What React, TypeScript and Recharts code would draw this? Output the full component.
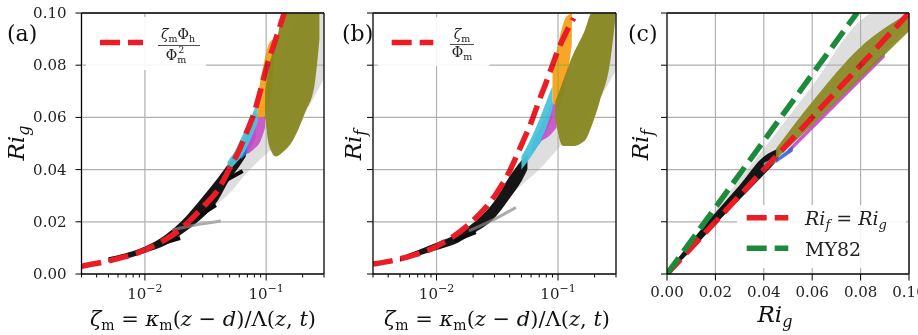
import React from 'react';
import { ComposedChart, Area, Line, XAxis, YAxis, Legend } from 'recharts';

type Row = [number, number, number]; // x, lower edge, upper edge of a point cloud

// axis ticks
const zetaTicks = [0.003, 0.004, 0.005, 0.006, 0.007, 0.008, 0.009, 0.01, 0.02, 0.03, 0.04, 0.05, 0.06, 0.07, 0.08, 0.09, 0.1, 0.2, 0.3];
const zetaMajor = [0.01, 0.1];
const riTicks = [0, 0.02, 0.04, 0.06, 0.08, 0.1];

// (a) Ri_g against zeta_m, dashed curve zeta*Phi_h/Phi_m^2
const fitGZeta = [0.003, 0.005, 0.01, 0.02, 0.03, 0.04, 0.05, 0.06, 0.07, 0.08, 0.09, 0.1, 0.12, 0.141];
const fitGRi = [0.003, 0.005, 0.0092, 0.0175, 0.0256, 0.0322, 0.0405, 0.0475, 0.055, 0.062, 0.0705, 0.0785, 0.09, 0.1];
const grayA: Row[] = [[0.025, 0.0195, 0.024], [0.035, 0.025, 0.03], [0.05, 0.031, 0.04], [0.07, 0.039, 0.05], [0.1, 0.046, 0.065], [0.15, 0.053, 0.09], [0.2, 0.06, 0.1], [0.25, 0.068, 0.1], [0.3, 0.075, 0.1]];
const blackA: Row[] = [[0.005, 0.0045, 0.0064], [0.008, 0.0066, 0.0088], [0.01, 0.0081, 0.0105], [0.015, 0.0112, 0.0152], [0.02, 0.0152, 0.0202], [0.03, 0.0216, 0.0296], [0.04, 0.0282, 0.0368], [0.05, 0.0362, 0.0428], [0.06, 0.0412, 0.0472], [0.068, 0.045, 0.0485]];
const cyanA: Row[] = [[0.048, 0.039, 0.043], [0.055, 0.042, 0.047], [0.065, 0.046, 0.054], [0.075, 0.052, 0.06], [0.085, 0.058, 0.066]];
const blueA: Row[] = [[0.062, 0.044, 0.049], [0.072, 0.047, 0.056], [0.082, 0.052, 0.062]];
const magentaA: Row[] = [[0.07, 0.046, 0.05], [0.08, 0.048, 0.058], [0.09, 0.051, 0.064], [0.098, 0.056, 0.066]];
const orangeA: Row[] = [[0.085, 0.06, 0.068], [0.095, 0.06, 0.08], [0.105, 0.065, 0.088], [0.115, 0.075, 0.09]];
const oliveA: Row[] = [[0.098, 0.06, 0.07], [0.106, 0.049, 0.08], [0.12, 0.045, 0.088], [0.14, 0.047, 0.1], [0.165, 0.051, 0.1], [0.21, 0.062, 0.1], [0.25, 0.072, 0.1], [0.275, 0.09, 0.1]];
const thinA = { xs: [0.0168, 0.0262, 0.0423], ys: [0.0169, 0.0188, 0.0203] };
const streaksA = [
  { xs: [0.014, 0.0195], ys: [0.0118, 0.0138] },
  { xs: [0.026, 0.0385], ys: [0.0213, 0.0264] },
  { xs: [0.047, 0.064], ys: [0.036, 0.0395] },
];

// (b) Ri_f against zeta_m, dashed curve zeta/Phi_m
const fitFZeta = [0.003, 0.005, 0.01, 0.02, 0.03, 0.04, 0.05, 0.06, 0.07, 0.08, 0.09, 0.1, 0.115, 0.1346];
const fitFRi = [0.0038, 0.0058, 0.0106, 0.0205, 0.0298, 0.0395, 0.0495, 0.058, 0.0665, 0.0735, 0.08, 0.0858, 0.092, 0.098];
const grayB: Row[] = [[0.04, 0.03, 0.036], [0.05, 0.034, 0.042], [0.07, 0.04, 0.055], [0.1, 0.048, 0.07], [0.15, 0.056, 0.088], [0.2, 0.064, 0.1], [0.3, 0.078, 0.1]];
const blackB: Row[] = [[0.005, 0.0048, 0.0065], [0.01, 0.0092, 0.012], [0.015, 0.012, 0.0155], [0.02, 0.0155, 0.0195], [0.03, 0.0215, 0.028], [0.04, 0.029, 0.0375], [0.05, 0.0355, 0.0435], [0.056, 0.04, 0.046]];
const cyanB: Row[] = [[0.05, 0.04, 0.045], [0.06, 0.045, 0.052], [0.07, 0.05, 0.059], [0.08, 0.056, 0.066], [0.09, 0.063, 0.072]];
const blueB: Row[] = [[0.06, 0.046, 0.049], [0.075, 0.052, 0.058], [0.09, 0.06, 0.066]];
const magentaB: Row[] = [[0.072, 0.051, 0.056], [0.085, 0.053, 0.062], [0.097, 0.056, 0.068]];
const orangeB: Row[] = [[0.09, 0.066, 0.078], [0.1, 0.064, 0.088], [0.115, 0.072, 0.098], [0.13, 0.088, 0.1]];
const oliveB: Row[] = [[0.095, 0.059, 0.066], [0.11, 0.049, 0.074], [0.13, 0.049, 0.083], [0.165, 0.051, 0.093], [0.19, 0.057, 0.1], [0.22, 0.066, 0.1], [0.27, 0.082, 0.1], [0.295, 0.097, 0.1]];
const thinB = { xs: [0.0185, 0.03, 0.045], ys: [0.0165, 0.021, 0.0255] };
const streaksB = [{ xs: [0.014, 0.021], ys: [0.0128, 0.016] }];

// (c) Ri_f against Ri_g
const oneToOneX = [0, 0.1];
const oneToOneY = [0, 0.1];
const my82X = [0, 0.02, 0.04, 0.06, 0.0785];
const my82Y = [0, 0.0255, 0.051, 0.0765, 0.1];
const grayC: Row[] = [[0.01, 0.01, 0.012], [0.02, 0.0195, 0.0245], [0.04, 0.039, 0.048], [0.06, 0.057, 0.072], [0.08, 0.075, 0.097], [0.085, 0.08, 0.1], [0.1, 0.095, 0.1]];
const blackC: Row[] = [[0.002, 0.0015, 0.003], [0.01, 0.009, 0.0125], [0.02, 0.019, 0.0235], [0.03, 0.0285, 0.034], [0.04, 0.038, 0.045], [0.046, 0.044, 0.048]];
const oliveC: Row[] = [[0.045, 0.044, 0.048], [0.06, 0.057, 0.066], [0.08, 0.075, 0.087], [0.1, 0.093, 0.1]];
const magentaC: Row[] = [[0.05, 0.046, 0.0478], [0.09, 0.083, 0.0852]];
const cyanC: Row[] = [[0.04, 0.0395, 0.0425], [0.045, 0.043, 0.045]];
const blueC: Row[] = [[0.045, 0.0425, 0.044], [0.052, 0.047, 0.049]];

const RED = '#ec1c24';
const GREEN = '#1b8a3a';
const OLIVE = '#86861f';
const ORANGE = '#f7a21b';
const MAGENTA = '#c94fc9';
const BLUE = '#3a64d8';
const CYAN = '#48c4dc';
const BLACK = '#0a0a0a';
const GRAY = '#a0a0a0';
const GRID = '#b0b0b0';
const FONT = 'DejaVu Serif';
const H = 335;
const PLOT_TOP = 13;
const PLOT_BOTTOM = 274;

const toBand = (rows: Row[]) => rows.map(([x, lo, hi]) => ({ x, r: [lo, hi] }));
const toLine = (xs: number[], ys: number[]) => xs.map((x, i) => ({ x, y: ys[i] }));

const XTick = ({ x, y, payload, log }: any) => {
  const v = payload.value;
  const major = !log || zetaMajor.includes(v);
  return (
    <g>
      <line x1={x} x2={x} y1={y} y2={y + (major ? 6.5 : 3.5)} stroke="#000" strokeWidth={1} />
      {log && major && (
        <text x={x} y={y + 25} textAnchor="middle" fontSize={15} fill="#222" fontFamily={FONT}>
          10<tspan dy={-7} fontSize={11}>{'\u2212' + Math.round(-Math.log10(v))}</tspan>
        </text>
      )}
      {!log && (
        <text x={x} y={y + 23} textAnchor="middle" fontSize={15} fill="#222" fontFamily={FONT}>
          {v.toFixed(2)}
        </text>
      )}
    </g>
  );
};

const YTick = ({ x, y, payload, labels }: any) => (
  <g>
    <line x1={x - 6} x2={x} y1={y} y2={y} stroke="#000" strokeWidth={1} />
    {labels && (
      <text x={x - 15} y={y + 5} textAnchor="end" fontSize={15} fill="#222" fontFamily={FONT}>
        {payload.value.toFixed(2)}
      </text>
    )}
  </g>
);

interface Cloud { rows: Row[]; color: string; opacity: number }
interface Curve { xs: number[]; ys: number[]; color: string; width: number; dash?: string; opacity?: number }

interface PanelProps {
  left: number;
  width: number;
  plotL: number;
  plotR: number;
  log: boolean;
  xDomain: [number, number];
  xTicks: number[];
  clouds: Cloud[];
  curves: Curve[];
  yLabels: boolean;
  legend: React.ReactNode;
  legendBox: { left: number; top: number; width: number; height: number };
}

const Panel: React.FC<PanelProps> = ({ left, width, plotL, plotR, log, xDomain, xTicks, clouds, curves, yLabels, legend, legendBox }) => {
  const margin = { top: PLOT_TOP, bottom: H - PLOT_BOTTOM - 30, left: plotL - left - 60, right: left + width - plotR };
  return (
    <div style={{ position: 'absolute', left, top: 0 }}>
      <ComposedChart width={width} height={H} margin={margin}>
        <XAxis
          dataKey="x"
          type="number"
          scale={log ? 'log' : 'linear'}
          domain={xDomain}
          allowDataOverflow
          ticks={xTicks}
          interval={0}
          height={30}
          tickSize={0}
          tickMargin={0}
          tickLine={false}
          axisLine={{ stroke: '#000', strokeWidth: 1.3 }}
          tick={(p: any) => <XTick {...p} log={log} />}
        />
        <YAxis
          type="number"
          domain={[0, 0.1]}
          allowDataOverflow
          ticks={riTicks}
          interval={0}
          width={60}
          tickSize={0}
          tickMargin={0}
          tickLine={false}
          axisLine={{ stroke: '#000', strokeWidth: 1.3 }}
          tick={(p: any) => <YTick {...p} labels={yLabels} />}
        />
        {clouds.map((c, i) => (
          <Area
            key={'cloud' + i}
            data={toBand(c.rows)}
            dataKey="r"
            type="monotone"
            fill={c.color}
            fillOpacity={c.opacity}
            stroke="none"
            dot={false}
            activeDot={false}
            legendType="none"
            isAnimationActive={false}
          />
        ))}
        {curves.map((c, i) => (
          <Line
            key={'curve' + i}
            data={toLine(c.xs, c.ys)}
            dataKey="y"
            type="monotone"
            stroke={c.color}
            strokeWidth={c.width}
            strokeDasharray={c.dash}
            strokeOpacity={c.opacity ?? 1}
            dot={false}
            activeDot={false}
            legendType="none"
            isAnimationActive={false}
          />
        ))}
        <Legend
          layout="vertical"
          align="center"
          verticalAlign="middle"
          wrapperStyle={{ ...legendBox, zIndex: 10 }}
          content={() => legend}
        />
      </ComposedChart>
    </div>
  );
};

// grid lines and top/right spines, blended with "darken" so the clouds stay on top visually
const Frame = ({ plotL, plotR, log, xDomain, xGrid }: { plotL: number; plotR: number; log: boolean; xDomain: [number, number]; xGrid: number[] }) => {
  const f = (v: number) => (log ? Math.log10(v) : v);
  const sx = (v: number) => plotL + ((f(v) - f(xDomain[0])) / (f(xDomain[1]) - f(xDomain[0]))) * (plotR - plotL);
  const sy = (v: number) => PLOT_BOTTOM - (v / 0.1) * (PLOT_BOTTOM - PLOT_TOP);
  return (
    <g>
      {xGrid.map((v) => (
        <line key={'x' + v} x1={sx(v)} x2={sx(v)} y1={PLOT_TOP} y2={PLOT_BOTTOM} stroke={GRID} strokeWidth={1.2} />
      ))}
      {riTicks.map((v) => (
        <line key={'y' + v} x1={plotL} x2={plotR} y1={sy(v)} y2={sy(v)} stroke={GRID} strokeWidth={1.2} />
      ))}
      <line x1={plotL} x2={plotR} y1={PLOT_TOP} y2={PLOT_TOP} stroke="#000" strokeWidth={1.3} />
      <line x1={plotR} x2={plotR} y1={PLOT_TOP} y2={PLOT_BOTTOM} stroke="#000" strokeWidth={1.3} />
    </g>
  );
};

const DASH = '20 8';

const LegendA = () => (
  <svg width={120} height={53} style={{ display: 'block' }} fontFamily={FONT}>
    <rect x={0} y={0} width={120} height={53} rx={3} fill="#fff" fillOpacity={0.9} />
    <line x1={14} x2={57} y1={25.5} y2={25.5} stroke={RED} strokeWidth={5.5} strokeDasharray={DASH} />
    <text x={92} y={22} textAnchor="middle" fontSize={14} fill="#222">
      <tspan fontStyle="italic">ζ</tspan>
      <tspan fontSize={9.5} dy={3}>m</tspan>
      <tspan dy={-3}>Φ</tspan>
      <tspan fontSize={9.5} dy={3}>h</tspan>
    </text>
    <line x1={72} x2={114} y1={28.5} y2={28.5} stroke="#222" strokeWidth={0.8} />
    <text x={90} y={43} textAnchor="middle" fontSize={14} fill="#222">
      Φ<tspan fontSize={9.5} dy={3}>m</tspan>
      <tspan fontSize={9.5} dx={-8} dy={-10}>2</tspan>
    </text>
  </svg>
);

const LegendB = () => (
  <svg width={113} height={49} style={{ display: 'block' }} fontFamily={FONT}>
    <rect x={0} y={0} width={113} height={49} rx={3} fill="#fff" fillOpacity={0.9} />
    <line x1={14.7} x2={56.3} y1={25.5} y2={25.5} stroke={RED} strokeWidth={5.5} strokeDasharray={DASH} />
    <text x={85} y={22} textAnchor="middle" fontSize={14} fill="#222">
      <tspan fontStyle="italic">ζ</tspan>
      <tspan fontSize={9.5} dy={3}>m</tspan>
    </text>
    <line x1={73} x2={97} y1={27.5} y2={27.5} stroke="#222" strokeWidth={0.8} />
    <text x={85} y={40} textAnchor="middle" fontSize={14} fill="#222">
      Φ<tspan fontSize={9.5} dy={3}>m</tspan>
    </text>
  </svg>
);

const LegendC = () => (
  <svg width={169} height={63} style={{ display: 'block' }} fontFamily={FONT}>
    <rect x={0} y={0} width={169} height={63} rx={3} fill="#fff" fillOpacity={0.9} />
    <line x1={9.7} x2={51.3} y1={12.7} y2={12.7} stroke={RED} strokeWidth={5.5} strokeDasharray={DASH} />
    <text x={68} y={20} fontSize={19} fill="#222">
      <tspan fontStyle="italic">Ri</tspan>
      <tspan fontStyle="italic" fontSize={13} dy={4}>f</tspan>
      <tspan dy={-4}> = </tspan>
      <tspan fontStyle="italic">Ri</tspan>
      <tspan fontStyle="italic" fontSize={13} dy={4}>g</tspan>
    </text>
    <line x1={9.7} x2={51.3} y1={43.3} y2={43.3} stroke={GREEN} strokeWidth={5.5} strokeDasharray={DASH} />
    <text x={68} y={51} fontSize={19} fill="#222">MY82</text>
  </svg>
);

const ZetaLabel = ({ x }: { x: number }) => (
  <text x={x} y={326} textAnchor="middle" fontSize={21} fill="#111" fontFamily={FONT}>
    <tspan fontStyle="italic">ζ</tspan>
    <tspan fontSize={14} dy={4}>m</tspan>
    <tspan dy={-4}> = </tspan>
    <tspan fontStyle="italic">κ</tspan>
    <tspan fontSize={14} dy={4}>m</tspan>
    <tspan dy={-4}>(</tspan>
    <tspan fontStyle="italic">z</tspan>
    <tspan> − </tspan>
    <tspan fontStyle="italic">d</tspan>
    <tspan>)/Λ(</tspan>
    <tspan fontStyle="italic">z</tspan>
    <tspan>, </tspan>
    <tspan fontStyle="italic">t</tspan>
    <tspan>)</tspan>
  </text>
);

const RiLabel = ({ x, y, sub, rotate }: { x: number; y: number; sub: string; rotate?: boolean }) => (
  <text
    transform={`translate(${x},${y})${rotate ? ' rotate(-90)' : ''}`}
    textAnchor="middle"
    fontSize={23}
    fontStyle="italic"
    fill="#111"
    fontFamily={FONT}
  >
    Ri<tspan fontSize={16} dy={5}>{sub}</tspan>
  </text>
);

export default function App() {
  return (
    <div style={{ position: 'absolute', left: 0, top: 0, width: 918, height: H, background: '#fff', overflow: 'hidden' }}>
      <Panel
        left={0}
        width={330}
        plotL={81.5}
        plotR={324}
        log
        xDomain={[0.003, 0.3]}
        xTicks={zetaTicks}
        yLabels
        clouds={[
          { rows: grayA, color: GRAY, opacity: 0.35 },
          { rows: blackA, color: BLACK, opacity: 0.95 },
          { rows: blueA, color: BLUE, opacity: 0.9 },
          { rows: magentaA, color: MAGENTA, opacity: 0.9 },
          { rows: cyanA, color: CYAN, opacity: 0.95 },
          { rows: orangeA, color: ORANGE, opacity: 0.95 },
          { rows: oliveA, color: OLIVE, opacity: 0.95 },
        ]}
        curves={[
          { ...thinA, color: '#888', width: 3, opacity: 0.7 },
          ...streaksA.map((s) => ({ ...s, color: BLACK, width: 4 })),
          { xs: fitGZeta, ys: fitGRi, color: RED, width: 5.5, dash: DASH },
        ]}
        legend={<LegendA />}
        legendBox={{ left: 86, top: 17, width: 120, height: 53 }}
      />
      <Panel
        left={300}
        width={330}
        plotL={373}
        plotR={616}
        log
        xDomain={[0.003, 0.3]}
        xTicks={zetaTicks}
        yLabels={false}
        clouds={[
          { rows: grayB, color: GRAY, opacity: 0.35 },
          { rows: blackB, color: BLACK, opacity: 0.95 },
          { rows: blueB, color: BLUE, opacity: 0.9 },
          { rows: magentaB, color: MAGENTA, opacity: 0.9 },
          { rows: cyanB, color: CYAN, opacity: 0.95 },
          { rows: orangeB, color: ORANGE, opacity: 0.95 },
          { rows: oliveB, color: OLIVE, opacity: 0.95 },
        ]}
        curves={[
          { ...thinB, color: '#888', width: 3, opacity: 0.7 },
          ...streaksB.map((s) => ({ ...s, color: BLACK, width: 4 })),
          { xs: fitFZeta, ys: fitFRi, color: RED, width: 5.5, dash: DASH },
        ]}
        legend={<LegendB />}
        legendBox={{ left: 77, top: 17, width: 113, height: 49 }}
      />
      <Panel
        left={600}
        width={318}
        plotL={667}
        plotR={909}
        log={false}
        xDomain={[0, 0.1]}
        xTicks={riTicks}
        yLabels={false}
        clouds={[
          { rows: grayC, color: GRAY, opacity: 0.35 },
          { rows: blackC, color: BLACK, opacity: 0.95 },
          { rows: magentaC, color: MAGENTA, opacity: 0.95 },
          { rows: oliveC, color: OLIVE, opacity: 0.9 },
          { rows: blueC, color: BLUE, opacity: 0.9 },
          { rows: cyanC, color: CYAN, opacity: 0.95 },
        ]}
        curves={[
          { xs: oneToOneX, ys: oneToOneY, color: RED, width: 5.5, dash: DASH },
          { xs: my82X, ys: my82Y, color: GREEN, width: 5.5, dash: DASH },
        ]}
        legend={<LegendC />}
        legendBox={{ left: 137, top: 205, width: 169, height: 63 }}
      />
      <svg
        width={918}
        height={H}
        style={{ position: 'absolute', left: 0, top: 0, pointerEvents: 'none', mixBlendMode: 'darken' }}
      >
        <Frame plotL={81.5} plotR={324} log xDomain={[0.003, 0.3]} xGrid={zetaMajor} />
        <Frame plotL={373} plotR={616} log xDomain={[0.003, 0.3]} xGrid={zetaMajor} />
        <Frame plotL={667} plotR={909} log={false} xDomain={[0, 0.1]} xGrid={riTicks} />
      </svg>
      <svg width={918} height={H} style={{ position: 'absolute', left: 0, top: 0, pointerEvents: 'none' }}>
        <text x={7} y={41} fontSize={22} fill="#111" fontFamily={FONT}>(a)</text>
        <text x={342} y={41} fontSize={22} fill="#111" fontFamily={FONT}>(b)</text>
        <text x={628} y={41} fontSize={22} fill="#111" fontFamily={FONT}>(c)</text>
        <RiLabel x={24} y={143} sub="g" rotate />
        <RiLabel x={361} y={145} sub="f" rotate />
        <RiLabel x={648} y={145} sub="f" rotate />
        <ZetaLabel x={203} />
        <ZetaLabel x={497} />
        <RiLabel x={775} y={322} sub="g" />
      </svg>
    </div>
  );
}
